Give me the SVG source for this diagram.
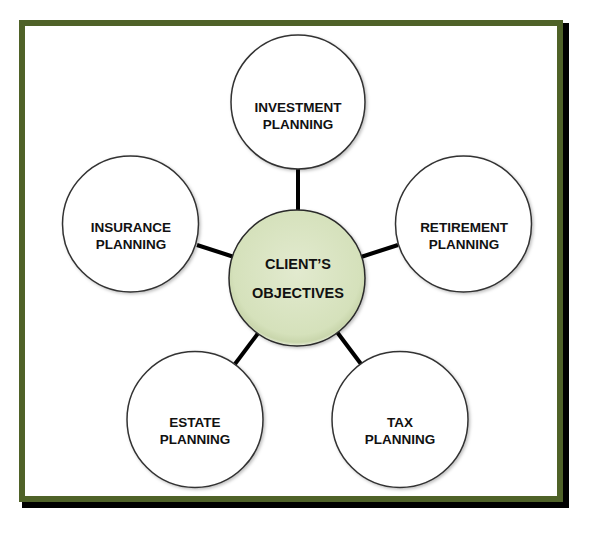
<svg xmlns="http://www.w3.org/2000/svg" width="590" height="533" viewBox="0 0 590 533">
<defs>
<radialGradient id="cg" cx="50%" cy="45%" r="55%">
<stop offset="0" stop-color="#e2eacf"/>
<stop offset="0.85" stop-color="#d5e1bb"/>
<stop offset="0.95" stop-color="#c9d6ac"/>
<stop offset="1" stop-color="#e8eedb"/>
</radialGradient>
<filter id="sh" x="-20%" y="-20%" width="140%" height="140%">
<feDropShadow dx="1.5" dy="1.5" stdDeviation="1.5" flood-color="#000" flood-opacity="0.25"/>
</filter>
<style>
.node{fill:#fff;stroke:#333;stroke-width:1.5;filter:url(#sh)}
.center{fill:url(#cg);stroke:#2a2a2a;stroke-width:1.5;filter:url(#sh)}
.lbl{font-family:"Liberation Sans",Arial,sans-serif;font-weight:bold;font-size:13.5px;fill:#111;text-anchor:middle}
.clbl{font-family:"Liberation Sans",Arial,sans-serif;font-weight:bold;font-size:14.5px;fill:#111;text-anchor:middle}
.conn line{stroke:#000;stroke-width:4}
</style>
</defs>
<rect width="590" height="533" fill="#fff"/>
<g id="frame">
<rect x="25" y="26" width="541" height="479" fill="none" stroke="#000" stroke-width="6"/>
<rect x="22" y="23" width="538" height="476" fill="#fff" stroke="#4f6228" stroke-width="6"/>
</g>
<g id="connectors" class="conn">
<line x1="298" y1="168" x2="298" y2="211"/>
<line x1="197" y1="245" x2="234" y2="257"/>
<line x1="361" y1="257" x2="398" y2="245"/>
<line x1="235" y1="364" x2="259" y2="332"/>
<line x1="337" y1="332" x2="361" y2="364"/>
</g>
<g id="investment">
<circle class="node" cx="298" cy="102" r="67"/>
<text class="lbl" x="298" y="111.5">INVESTMENT</text>
<text class="lbl" x="298" y="128.5">PLANNING</text>
</g>
<g id="insurance">
<circle class="node" cx="130.5" cy="224" r="68"/>
<text class="lbl" x="131" y="232">INSURANCE</text>
<text class="lbl" x="131" y="249">PLANNING</text>
</g>
<g id="retirement">
<circle class="node" cx="463.5" cy="224" r="68"/>
<text class="lbl" x="464" y="232">RETIREMENT</text>
<text class="lbl" x="464" y="249">PLANNING</text>
</g>
<g id="estate">
<circle class="node" cx="195" cy="419.5" r="68"/>
<text class="lbl" x="195" y="427">ESTATE</text>
<text class="lbl" x="195" y="444">PLANNING</text>
</g>
<g id="tax">
<circle class="node" cx="400" cy="419.5" r="68"/>
<text class="lbl" x="400" y="427">TAX</text>
<text class="lbl" x="400" y="444">PLANNING</text>
</g>
<g id="client">
<circle class="center" cx="297" cy="278" r="68"/>
<text class="clbl" x="298" y="269">CLIENT’S</text>
<text class="clbl" x="298" y="298">OBJECTIVES</text>
</g>
</svg>
